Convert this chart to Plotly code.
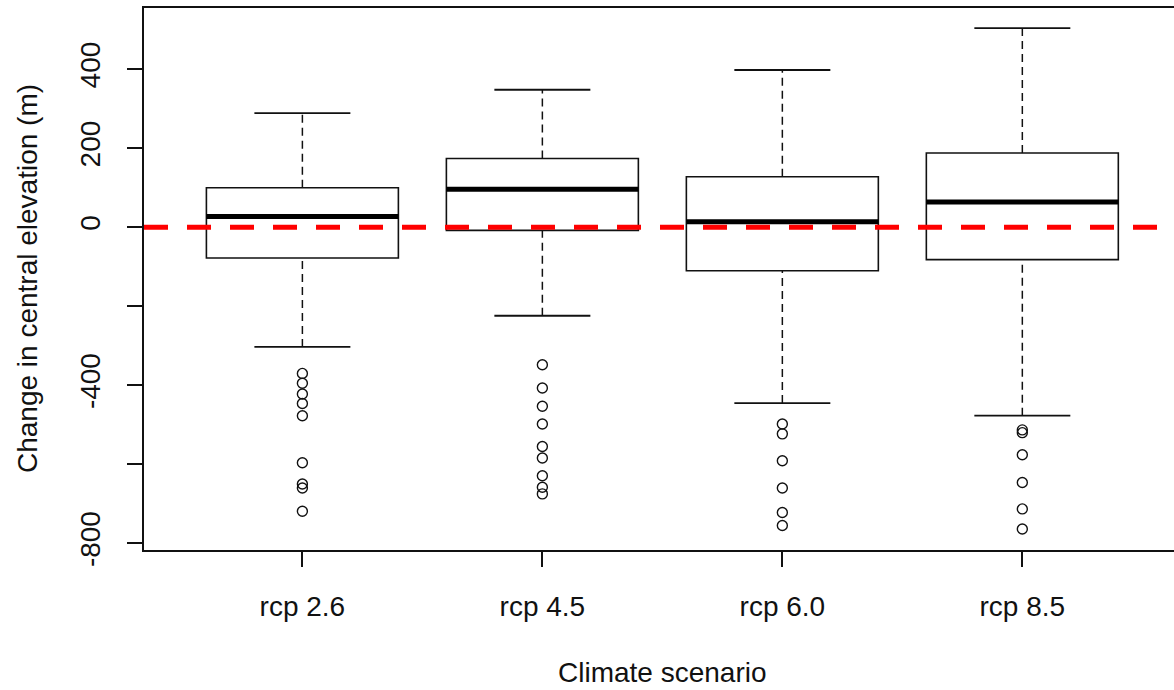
import plotly.graph_objects as go

# Summary statistics of the change in central elevation (m) per climate scenario
scenarios = ["rcp 2.6", "rcp 4.5", "rcp 6.0", "rcp 8.5"]
lower_whisker = [-303, -224, -445, -477]
q1 = [-78, -8, -110, -82]
median = [27, 96, 14, 64]
q3 = [100, 174, 128, 188]
upper_whisker = [289, 348, 398, 504]

# Points beyond the whiskers
outliers = [
    [-370, -395, -422, -446, -477, -596, -650, -660, -719],
    [-348, -407, -453, -498, -555, -584, -629, -658, -675],
    [-498, -523, -591, -660, -722, -755],
    [-513, -520, -576, -646, -713, -764],
]

y_tick_values = [-800, -600, -400, -200, 0, 200, 400]
y_tick_text = ["-800", "", "-400", "", "0", "200", "400"]

BOX_HALF = 0.4
CAP_HALF = 0.2
FONT = "Liberation Sans, Arial, sans-serif"
FONT_SIZE = 28
INK = "#111111"

fig = go.Figure()
shapes = []

for i, name in enumerate(scenarios):
    x = i + 1
    # whiskers (dashed) and caps
    shapes.append(dict(type="line", xref="x", yref="y", x0=x, x1=x,
                       y0=q3[i], y1=upper_whisker[i],
                       line=dict(color=INK, width=1.5, dash="8px,5px")))
    shapes.append(dict(type="line", xref="x", yref="y", x0=x, x1=x,
                       y0=lower_whisker[i], y1=q1[i],
                       line=dict(color=INK, width=1.5, dash="8px,5px")))
    for w in (upper_whisker[i], lower_whisker[i]):
        shapes.append(dict(type="line", xref="x", yref="y",
                           x0=x - CAP_HALF, x1=x + CAP_HALF, y0=w, y1=w,
                           line=dict(color=INK, width=1.8)))
    # box
    shapes.append(dict(type="rect", xref="x", yref="y",
                       x0=x - BOX_HALF, x1=x + BOX_HALF, y0=q1[i], y1=q3[i],
                       line=dict(color=INK, width=1.6)))
    # median
    shapes.append(dict(type="line", xref="x", yref="y",
                       x0=x - BOX_HALF, x1=x + BOX_HALF,
                       y0=median[i], y1=median[i],
                       line=dict(color="black", width=5)))

    fig.add_trace(go.Scatter(
        x=[x] * len(outliers[i]), y=outliers[i], mode="markers",
        marker=dict(symbol="circle-open", size=10, color=INK,
                    line=dict(width=1.4, color=INK)),
        showlegend=False, hoverinfo="y", name=name,
    ))

# reference line at zero change
shapes.append(dict(type="line", xref="paper", yref="y", x0=0, x1=1, y0=0, y1=0,
                   line=dict(color="#ff0000", width=5, dash="24px,19px")))

fig.update_layout(
    width=1174, height=690,
    margin=dict(l=144, r=0, t=8, b=140, pad=0),
    paper_bgcolor="white", plot_bgcolor="white",
    font=dict(family=FONT, size=FONT_SIZE, color=INK),
    shapes=shapes,
    showlegend=False,
    annotations=[
        dict(text="Climate scenario", xref="x", yref="paper", x=2.5, y=0,
             yshift=-122, xanchor="center", yanchor="middle", showarrow=False,
             font=dict(family=FONT, size=FONT_SIZE, color=INK)),
        dict(text="Change in central elevation (m)", xref="paper", yref="paper",
             x=0, y=0.5, xshift=-117, textangle=-90, xanchor="center",
             yanchor="middle", showarrow=False,
             font=dict(family=FONT, size=FONT_SIZE, color=INK)),
    ],
)

fig.update_xaxes(
    range=[0.34, 4.632], tickvals=[1, 2, 3, 4], ticktext=scenarios,
    showline=True, mirror=True, linecolor=INK, linewidth=1.6,
    ticks="outside", ticklen=15, tickwidth=1.5, tickcolor=INK,
    showgrid=False, zeroline=False, ticklabelstandoff=16,
    tickfont=dict(family=FONT, size=FONT_SIZE, color=INK),
)
fig.update_yaxes(
    range=[-817, 555], tickvals=y_tick_values, ticktext=y_tick_text,
    tickangle=-90,
    showline=True, mirror=False, linecolor=INK, linewidth=1.6,
    ticks="outside", ticklen=15, tickwidth=1.5, tickcolor=INK,
    showgrid=False, zeroline=False, ticklabelstandoff=16,
    tickfont=dict(family=FONT, size=FONT_SIZE, color=INK),
)

fig.write_html("out.html", post_script="document.body.style.margin='0';")
